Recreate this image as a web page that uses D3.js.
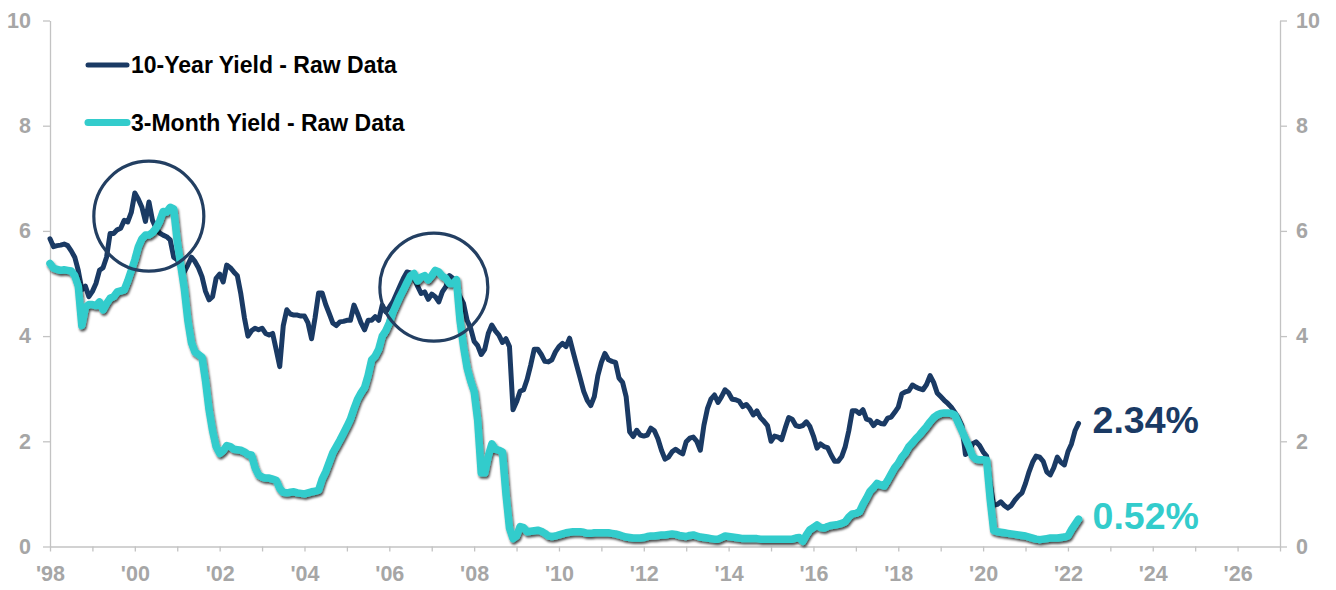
<!DOCTYPE html>
<html>
<head>
<meta charset="utf-8">
<script src="https://cdn.jsdelivr.net/npm/d3@7"></script>
<style>
  html, body { margin: 0; padding: 0; background: #ffffff; }
  svg { display: block; font-family: "Liberation Sans", Arial, sans-serif; }
</style>
</head>
<body>
<svg id="chart" width="1336" height="590"></svg>
<script>
// Monthly yields, January 1998 onward (percent)
const startYear = 1998;

const tenYear = [
  5.85, 5.70, 5.72, 5.73, 5.75, 5.72, 5.62, 5.50, 5.25, 4.88, 4.95, 4.75, // 1998
  4.85, 5.00, 5.25, 5.30, 5.50, 5.95, 5.95, 6.02, 6.05, 6.20, 6.17, 6.35, // 1999
  6.72, 6.60, 6.45, 6.18, 6.55, 6.20, 6.05, 5.96, 5.92, 5.89, 5.83, 5.50, // 2000
  5.45, 5.30, 5.22, 5.35, 5.50, 5.42, 5.30, 5.13, 4.85, 4.69, 4.75, 5.10, // 2001
  5.18, 5.03, 5.35, 5.30, 5.22, 5.15, 4.80, 4.35, 4.00, 4.10, 4.15, 4.12, // 2002
  4.15, 4.05, 4.02, 4.05, 3.74, 3.42, 4.20, 4.50, 4.42, 4.40, 4.40, 4.38, // 2003
  4.38, 4.25, 3.95, 4.35, 4.82, 4.82, 4.60, 4.43, 4.25, 4.20, 4.27, 4.28, // 2004
  4.30, 4.30, 4.59, 4.43, 4.25, 4.12, 4.30, 4.30, 4.37, 4.30, 4.59, 4.46, // 2005
  4.55, 4.65, 4.80, 4.95, 5.10, 5.22, 5.20, 5.10, 4.95, 4.81, 4.84, 4.70, // 2006
  4.80, 4.75, 4.65, 4.84, 4.94, 5.15, 5.10, 4.90, 4.75, 4.62, 4.30, 4.15, // 2007
  3.90, 3.82, 3.65, 3.75, 4.05, 4.21, 4.10, 4.02, 3.88, 3.95, 3.80, 2.60, // 2008
  2.75, 2.95, 2.98, 3.18, 3.45, 3.75, 3.75, 3.65, 3.52, 3.51, 3.55, 3.70, // 2009
  3.80, 3.86, 3.80, 3.96, 3.70, 3.45, 3.20, 2.95, 2.78, 2.68, 2.85, 3.25, // 2010
  3.50, 3.67, 3.55, 3.52, 3.50, 3.20, 3.12, 2.85, 2.18, 2.09, 2.21, 2.12, // 2011
  2.10, 2.12, 2.25, 2.20, 2.05, 1.83, 1.66, 1.70, 1.80, 1.85, 1.80, 1.76, // 2012
  1.99, 2.06, 2.08, 2.00, 1.83, 2.30, 2.62, 2.80, 2.88, 2.74, 2.85, 2.98, // 2013
  2.92, 2.80, 2.79, 2.76, 2.66, 2.70, 2.62, 2.50, 2.58, 2.45, 2.38, 2.30, // 2014
  2.00, 2.10, 2.08, 2.03, 2.25, 2.45, 2.42, 2.30, 2.28, 2.30, 2.37, 2.28, // 2015
  2.10, 1.87, 1.95, 1.90, 1.88, 1.74, 1.62, 1.62, 1.71, 1.90, 2.20, 2.58, // 2016
  2.58, 2.53, 2.60, 2.42, 2.40, 2.30, 2.38, 2.34, 2.33, 2.44, 2.46, 2.55, // 2017
  2.65, 2.90, 2.94, 2.96, 3.07, 3.03, 3.00, 2.98, 3.08, 3.25, 3.12, 2.92, // 2018
  2.85, 2.78, 2.72, 2.65, 2.55, 2.44, 2.30, 1.75, 1.80, 1.95, 1.99, 1.92, // 2019
  1.80, 1.72, 1.20, 0.78, 0.80, 0.85, 0.78, 0.73, 0.78, 0.88, 0.96, 1.02, // 2020
  1.20, 1.42, 1.60, 1.72, 1.70, 1.62, 1.42, 1.36, 1.50, 1.70, 1.60, 1.55, // 2021
  1.80, 1.95, 2.20, 2.34                                                  // 2022
];

const threeMonth = [
  5.38, 5.29, 5.27, 5.25, 5.26, 5.25, 5.24, 5.15, 4.95, 4.20, 4.55, 4.60, // 1998
  4.60, 4.58, 4.65, 4.50, 4.62, 4.72, 4.75, 4.84, 4.86, 4.88, 5.05, 5.25, // 1999
  5.45, 5.70, 5.85, 5.92, 5.92, 5.97, 6.05, 6.18, 6.37, 6.36, 6.45, 6.42, // 2000
  5.80, 5.35, 4.90, 4.30, 3.88, 3.70, 3.65, 3.60, 3.15, 2.60, 2.20, 1.90, // 2001
  1.77, 1.82, 1.92, 1.90, 1.85, 1.84, 1.83, 1.80, 1.75, 1.74, 1.50, 1.36, // 2002
  1.32, 1.30, 1.30, 1.28, 1.26, 1.10, 1.03, 1.02, 1.03, 1.04, 1.02, 1.01, // 2003
  1.00, 1.02, 1.04, 1.05, 1.07, 1.28, 1.42, 1.60, 1.78, 1.90, 2.02, 2.15, // 2004
  2.28, 2.42, 2.62, 2.80, 2.92, 3.02, 3.25, 3.55, 3.62, 3.75, 4.00, 4.10, // 2005
  4.25, 4.45, 4.60, 4.75, 4.88, 5.02, 5.15, 5.19, 5.05, 5.12, 5.15, 5.07, // 2006
  5.15, 5.25, 5.22, 5.14, 5.10, 5.00, 5.00, 5.07, 4.30, 3.80, 3.40, 3.15, // 2007
  2.95, 2.40, 1.40, 1.40, 1.72, 1.95, 1.85, 1.83, 1.80, 1.00, 0.35, 0.15, // 2008
  0.20, 0.38, 0.36, 0.28, 0.29, 0.30, 0.31, 0.29, 0.25, 0.20, 0.19, 0.20, // 2009
  0.22, 0.24, 0.26, 0.27, 0.28, 0.28, 0.28, 0.27, 0.25, 0.25, 0.26, 0.26, // 2010
  0.26, 0.26, 0.26, 0.25, 0.24, 0.22, 0.20, 0.18, 0.17, 0.16, 0.16, 0.16, // 2011
  0.17, 0.19, 0.20, 0.20, 0.21, 0.22, 0.22, 0.23, 0.24, 0.23, 0.21, 0.20, // 2012
  0.19, 0.21, 0.22, 0.20, 0.18, 0.17, 0.16, 0.15, 0.14, 0.14, 0.17, 0.20, // 2013
  0.19, 0.18, 0.17, 0.16, 0.15, 0.15, 0.15, 0.15, 0.15, 0.14, 0.14, 0.14, // 2014
  0.14, 0.14, 0.14, 0.14, 0.14, 0.14, 0.14, 0.16, 0.17, 0.10, 0.22, 0.32, // 2015
  0.36, 0.41, 0.36, 0.35, 0.38, 0.40, 0.41, 0.42, 0.44, 0.47, 0.56, 0.62, // 2016
  0.63, 0.66, 0.80, 0.92, 1.05, 1.12, 1.20, 1.17, 1.15, 1.26, 1.38, 1.50, // 2017
  1.58, 1.70, 1.78, 1.90, 1.97, 2.05, 2.12, 2.20, 2.28, 2.37, 2.45, 2.50, // 2018
  2.53, 2.54, 2.54, 2.53, 2.50, 2.35, 2.20, 2.05, 1.90, 1.72, 1.66, 1.65, // 2019
  1.65, 1.64, 0.90, 0.30, 0.28, 0.27, 0.26, 0.25, 0.24, 0.23, 0.22, 0.21, // 2020
  0.20, 0.18, 0.16, 0.14, 0.13, 0.14, 0.15, 0.16, 0.16, 0.16, 0.17, 0.18, // 2021
  0.20, 0.32, 0.42, 0.52                                                  // 2022
];

const seriesNames = ["10-Year Yield - Raw Data", "3-Month Yield - Raw Data"];
const seriesColors = ["#1a3a64", "#33cccc"];
const yTicks = [0, 2, 4, 6, 8, 10];
const xTickYears = d3.range(1998, 2028);
const xLabelYears = d3.range(1998, 2027, 2);

// Highlighted peaks (date in years, yield, radius in px)
const highlights = [
  { year: 2000.33, value: 6.28, r: 55 },
  { year: 2007.05, value: 4.93, r: 54 }
];

// ---------------------------------------------------------------
const svg = d3.select("#chart");
const plotLeft = 50, plotRight = 1280, plotTop = 20.5, plotBottom = 546.5;
const axisColor = "#c3c3c3";
const labelColor = "#a6a6a6";

const x = d3.scaleLinear().domain([1998, 2027]).range([plotLeft, plotRight]);
const y = d3.scaleLinear().domain([0, 10]).range([plotBottom, plotTop]);

const toPoints = vals => vals.map((v, i) => ({ t: startYear + i / 12, v }));
const tenPts = toPoints(tenYear);
const threePts = toPoints(threeMonth);

// Soft shadow under the short-rate line
const defs = svg.append("defs");
const f = defs.append("filter").attr("id", "shadow")
  .attr("x", "-5%").attr("y", "-5%").attr("width", "110%").attr("height", "115%");
f.append("feDropShadow").attr("dx", 1.2).attr("dy", 2.2)
  .attr("stdDeviation", 1.3).attr("flood-color", "#000").attr("flood-opacity", 0.7);

// Axes
const styleAxis = g => {
  g.selectAll(".domain").attr("stroke", axisColor).attr("stroke-width", 1.3);
  g.selectAll(".tick line").attr("stroke", axisColor).attr("stroke-width", 1.3);
  g.selectAll(".tick text").attr("fill", labelColor)
    .attr("font-size", 21.5).attr("font-weight", "bold")
    .attr("font-family", "'Liberation Sans', Arial, sans-serif");
};

svg.append("g")
  .attr("transform", `translate(0,${plotBottom})`)
  .call(d3.axisBottom(x).tickValues(xTickYears).tickSize(5).tickSizeOuter(0).tickPadding(14)
    .tickFormat(d => xLabelYears.includes(d) ? "'" + String(d % 100).padStart(2, "0") : ""))
  .call(styleAxis);

svg.append("g")
  .attr("transform", `translate(${plotLeft},0)`)
  .call(d3.axisLeft(y).tickValues(yTicks).tickSize(7).tickSizeOuter(0).tickPadding(12))
  .call(styleAxis);

svg.append("g")
  .attr("transform", `translate(${plotRight},0)`)
  .call(d3.axisRight(y).tickValues(yTicks).tickSize(7).tickSizeOuter(0).tickPadding(9))
  .call(styleAxis);

// Lines
const line = d3.line().x(d => x(d.t)).y(d => y(d.v)).curve(d3.curveLinear);

svg.append("path").datum(tenPts)
  .attr("fill", "none").attr("stroke", seriesColors[0])
  .attr("stroke-width", 5).attr("stroke-linejoin", "round").attr("stroke-linecap", "round")
  .attr("d", line);

svg.append("path").datum(threePts)
  .attr("fill", "none").attr("stroke", seriesColors[1])
  .attr("stroke-width", 7.5).attr("stroke-linejoin", "round").attr("stroke-linecap", "round")
  .attr("filter", "url(#shadow)")
  .attr("d", line);

// Peak highlight circles
svg.selectAll("circle.hl").data(highlights).join("circle")
  .attr("class", "hl")
  .attr("cx", d => x(d.year)).attr("cy", d => y(d.value)).attr("r", d => d.r)
  .attr("fill", "none").attr("stroke", "#233f62").attr("stroke-width", 3.2);

// Latest values
const lastTen = tenPts[tenPts.length - 1];
const lastThree = threePts[threePts.length - 1];
[[lastTen, seriesColors[0]], [lastThree, seriesColors[1]]].forEach(([p, c]) => {
  svg.append("text")
    .attr("x", x(p.t) + 14).attr("y", y(p.v)).attr("dy", "0.25em")
    .attr("fill", c).attr("font-size", 37.5).attr("font-weight", "bold")
    .text(p.v.toFixed(2) + "%");
});

// Legend
const legend = svg.append("g");
seriesNames.forEach((name, i) => {
  const ly = 65 + i * 57.5;
  legend.append("line")
    .attr("x1", 88).attr("x2", 127).attr("y1", ly).attr("y2", ly)
    .attr("stroke", seriesColors[i]).attr("stroke-width", i === 0 ? 5 : 7)
    .attr("stroke-linecap", "round");
  legend.append("text")
    .attr("x", 131).attr("y", ly).attr("dy", "0.35em")
    .attr("font-size", 23).attr("font-weight", "bold").attr("fill", "#000")
    .text(name);
});
</script>
</body>
</html>
